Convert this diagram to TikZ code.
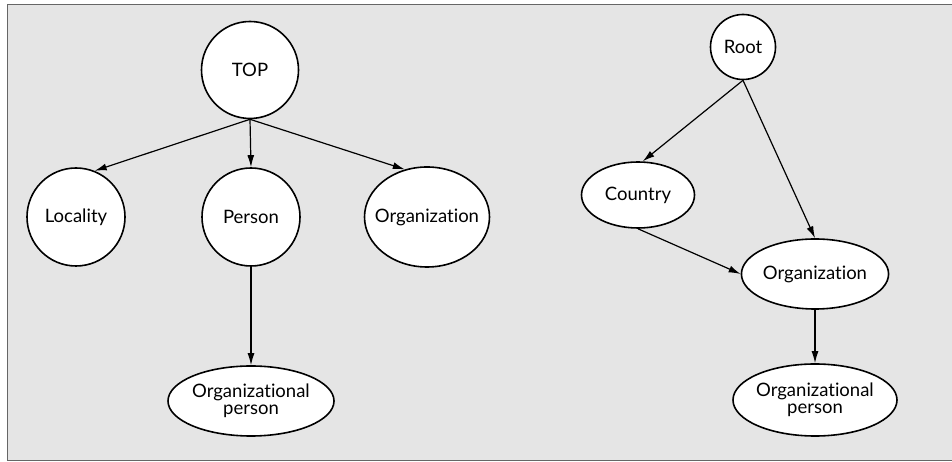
\documentclass[tikz,border=0pt]{standalone}
\usepackage{fontspec}
\setmainfont{Lato}[Ligatures={NoCommon}]
\usetikzlibrary{shapes.geometric,arrows.meta}
\tikzset{
  concept/.style={draw=black,fill=white,line width=1.6pt,inner sep=0pt,font=\fontsize{18.5}{20}\selectfont,align=center},
  round/.style={concept,circle},
  oval/.style={concept,ellipse},
  isa/.style={-{Latex[length=12pt,width=7pt]},line width=1.2pt},
}
\begin{document}
\begin{tikzpicture}[x=1pt,y=1pt]
  \useasboundingbox (0,0) rectangle (952,462);
  % Background panel
  \fill[black!10] (7,2) rectangle (952,458);
  \draw[black!60,line width=0.8pt] (952,458) -- (7,458) -- (7,2) -- (952,2);
%%
  % Left hierarchy
  \node[round,minimum size=97] (top) at (250,392) {TOP};
  \node[round,minimum size=98] (locality) at (76,245) {Locality};
  \node[round,minimum size=98] (person) at (251,245) {Person};
  \node[oval,minimum width=125,minimum height=100,inner xsep=-12pt] (org) at (427,245) {Organization};
  \node[oval,minimum width=166,minimum height=70,inner xsep=-4pt] (orgperson) at (251,61) {Organizational\\[-3pt]person};
  % Right hierarchy
  \node[round,minimum size=65] (root) at (743,415) {Root};
  \node[oval,minimum width=113,minimum height=66] (country) at (638,267) {Country};
  \node[oval,minimum width=146,minimum height=70] (rorg) at (815,188) {Organization};
  \node[oval,minimum width=164,minimum height=72,inner xsep=-4pt] (rorgperson) at (815,62) {Organizational\\[-3pt]person};
%%
  % Edge: TOP -> children
  \draw[isa] (top.south) -- (locality.68);
  \draw[isa] (top.south) -- (person.north);
  \draw[isa] (top.south) -- (org.115);
  % Edge: Person -> Organizational person
  \draw[isa] (person.south) -- (orgperson.north);
  % Edge: Root -> Country, Organization
  \draw[isa] (root.south) -- (country.82);
  \draw[isa] (root.south) -- (rorg.north);
  % Edge: Country -> Organization
  \draw[isa] (country.south) -- (rorg.west);
  % Edge: Organization -> Organizational person
  \draw[isa] (rorg.south) -- (rorgperson.north);
%
\end{tikzpicture}
\end{document}
